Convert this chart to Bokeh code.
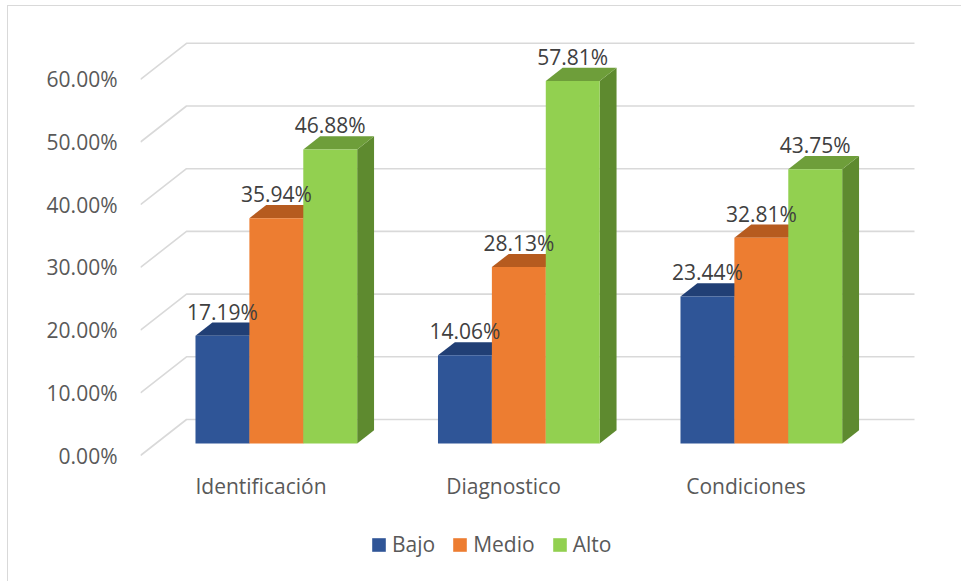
from bokeh.plotting import figure
from bokeh.models import (Range1d, FixedTicker, PrintfTickFormatter, Legend, LegendItem,
                          ColumnDataSource, InlineStyleSheet)
from bokeh.core.properties import value
from bokeh.embed import file_html
from bokeh.resources import INLINE

# ---------------- data ----------------
categories = ["Identificación", "Diagnostico", "Condiciones"]
series_names = ["Bajo", "Medio", "Alto"]
bajo = [17.19, 14.06, 23.44]
medio = [35.94, 28.13, 32.81]
alto = [46.88, 57.81, 43.75]
y_ticks = [0, 10, 20, 30, 40, 50, 60]

series_values = [bajo, medio, alto]
front_colors = ["#2F5597", "#ED7D31", "#92D050"]
top_colors = ["#213F75", "#B65B1F", "#6E9E3A"]
side_colors = ["#24447E", "#B35F22", "#5E8A2F"]

FONT = "Open Sans"
AXIS_TEXT = "#595959"
LABEL_TEXT = "#404040"
GRID = "#D9D9D9"

# ---------------- layout (pixels) ----------------
W, H = 961, 581
FRAME_L, FRAME_R, FRAME_T, FRAME_B = 140, 935, 15, 581
PX0 = 260.5      # pixel x of first category centre on the front plane
UX = 242.5       # pixels per category step
Y0 = 455.0       # pixel y of 0% on the front plane
UY = 6.27        # pixels per percent
DEPTH_DX, DEPTH_DY = 46.0, 36.0   # pixel shift from front plane to back wall
BACK_RIGHT_PX = 914.0
CAT_LABEL_PY = 485.5

x0 = (FRAME_L - PX0) / UX
x1 = (FRAME_R - PX0) / UX
y0 = (Y0 - FRAME_B) / UY
y1 = (Y0 - FRAME_T) / UY
DXU = DEPTH_DX / UX
DYU = DEPTH_DY / UY
BAR_W = 53.9 / UX
D_FRONT, D_BACK = 1.0 / 3.0, 0.70


def proj(x, v, d):
    return x + d * DXU, v + d * DYU


border_css = InlineStyleSheet(css="""
:host::after {
  content: ""; position: absolute; left: 7px; top: 5px; right: -10px; bottom: -10px;
  border-top: 1.5px solid #D9D9D9; border-left: 1.5px solid #D9D9D9;
  pointer-events: none;
}
""")

p = figure(width=W, height=H, output_backend="svg", toolbar_location=None,
           x_range=Range1d(x0, x1), y_range=Range1d(y0, y1),
           min_border_left=FRAME_L, min_border_right=W - FRAME_R,
           min_border_top=FRAME_T, min_border_bottom=H - FRAME_B)
p.stylesheets = [border_css]
p.outline_line_color = None
p.background_fill_color = "white"
p.border_fill_color = "white"
p.xgrid.visible = False
p.ygrid.visible = False
p.xaxis.visible = False

# ---------------- 3D grid lines ----------------
back_right_x = (BACK_RIGHT_PX - DEPTH_DX - PX0) / UX
gx, gy = [], []
for t in y_ticks:
    a = proj(x0, t, 0)
    b = proj(x0, t, 1)
    c = proj(back_right_x, t, 1)
    gx.append([a[0], b[0], c[0]])
    gy.append([a[1], b[1], c[1]])
p.multi_line(gx, gy, line_color=GRID, line_width=1.6)

# ---------------- 3D bars ----------------
legend_items = []
lx, ly, lt = [], [], []
for j, (name, vals) in enumerate(zip(series_names, series_values)):
    side_xs, side_ys, top_xs, top_ys = [], [], [], []
    fx, fb, ft = [], [], []
    for i, v in enumerate(vals):
        xc = i + (j - 1) * BAR_W
        xl, xr = xc - BAR_W / 2, xc + BAR_W / 2
        pts = [proj(xr, 0, D_FRONT), proj(xr, v, D_FRONT), proj(xr, v, D_BACK), proj(xr, 0, D_BACK)]
        side_xs.append([q[0] for q in pts]); side_ys.append([q[1] for q in pts])
        pts = [proj(xl, v, D_FRONT), proj(xr, v, D_FRONT), proj(xr, v, D_BACK), proj(xl, v, D_BACK)]
        top_xs.append([q[0] for q in pts]); top_ys.append([q[1] for q in pts])
        cx, cb = proj(xc, 0, D_FRONT)
        fx.append(cx); fb.append(cb); ft.append(v + D_FRONT * DYU)
        lx.append(cx); ly.append(v + D_BACK * DYU); lt.append(f"{v:.2f}%")
    p.patches(side_xs, side_ys, fill_color=side_colors[j], line_color=None)
    p.patches(top_xs, top_ys, fill_color=top_colors[j], line_color=None)
    src = ColumnDataSource(dict(x=fx, bottom=fb, top=ft))
    r = p.vbar(x="x", bottom="bottom", top="top", width=BAR_W, source=src,
               fill_color=front_colors[j], line_color=None)
    legend_items.append(LegendItem(label=name, renderers=[r]))

# data labels on top of everything
p.text(lx, ly, text=lt, text_font=value(FONT), text_font_size="21px",
       text_color=LABEL_TEXT, text_align="center", text_baseline="middle",
       y_offset=-11)

# category labels along the front floor edge
cat_y = (Y0 - CAT_LABEL_PY) / UY
p.text(list(range(len(categories))), [cat_y] * len(categories), text=categories,
       text_font=value(FONT), text_font_size="21px", text_color=AXIS_TEXT,
       text_align="center", text_baseline="middle")

# ---------------- y axis ----------------
p.yaxis.ticker = FixedTicker(ticks=y_ticks)
p.yaxis.formatter = PrintfTickFormatter(format="%.2f%%")
p.yaxis.axis_line_color = None
p.yaxis.major_tick_line_color = None
p.yaxis.minor_tick_line_color = None
p.yaxis.major_label_standoff = 17
p.yaxis.major_label_text_font = FONT
p.yaxis.major_label_text_font_size = "21px"
p.yaxis.major_label_text_color = AXIS_TEXT

# ---------------- legend ----------------
lg = Legend(items=legend_items, orientation="horizontal", location=(230, 23),
            padding=0, margin=0, spacing=16, glyph_width=17, glyph_height=17,
            label_standoff=5, border_line_color=None, background_fill_alpha=0,
            label_text_font=FONT, label_text_font_size="21px",
            label_text_color=AXIS_TEXT)
p.add_layout(lg, "center")

open("out.html", "w").write(file_html(p, INLINE))
